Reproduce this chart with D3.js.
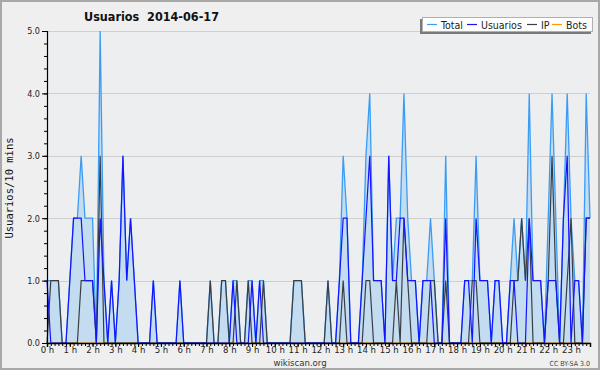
<!DOCTYPE html>
<html>
<head>
<meta charset="utf-8">
<script src="https://cdn.jsdelivr.net/npm/d3@7/dist/d3.min.js"></script>
<style>
html,body{margin:0;padding:0;background:#efefef;}
svg{display:block;}
text{font-family:"DejaVu Sans Condensed","DejaVu Sans",sans-serif;}
</style>
</head>
<body>
<svg id="chart" width="600" height="370"></svg>
<script>
// ---- data (10-minute slots, 0:00 .. 23:50) ----
const hourLabels = ["0 h","1 h","2 h","3 h","4 h","5 h","6 h","7 h","8 h","9 h","10 h","11 h",
  "12 h","13 h","14 h","15 h","16 h","17 h","18 h","19 h","20 h","21 h","22 h","23 h"];
const yTickValues = [0, 1, 2, 3, 4, 5];
const seriesNames = ["Total", "Usuarios", "IP", "Bots"];

const total = [
  1,1,1,1,0,0, 1,2,2,3,2,2,
  2,0,5,1,0,1, 0,1,3,1,2,1,
  0,0,0,0,1,0, 0,0,0,0,0,1,
  0,0,0,0,0,0, 0,1,0,0,1,1,
  0,1,1,0,0,1, 1,0,1,1,0,0,
  0,0,0,0,0,1, 1,1,0,0,0,0,
  0,0,1,0,0,1, 3,2,0,0,0,1,
  3,4,1,1,1,0, 3,1,2,2,4,2,
  1,1,0,1,1,2, 1,0,0,3,0,0,
  0,0,1,1,1,3, 1,1,1,0,1,1,
  0,0,1,2,1,2, 1,4,1,1,1,0,
  2,4,2,0,2,4, 2,1,1,0,4,2];
const usuarios = [
  1,0,0,0,0,0, 1,2,2,2,1,1,
  1,0,2,1,0,1, 0,1,3,1,2,1,
  0,0,0,0,1,0, 0,0,0,0,0,1,
  0,0,0,0,0,0, 0,0,0,0,0,0,
  0,1,0,0,0,0, 1,0,1,0,0,0,
  0,0,0,0,0,0, 0,0,0,0,0,0,
  0,0,0,0,0,1, 2,2,0,0,0,1,
  2,3,1,1,1,0, 3,1,1,2,2,1,
  1,1,0,1,1,1, 0,0,0,2,0,0,
  0,0,1,1,0,2, 1,1,1,0,1,1,
  0,0,1,1,0,0, 0,2,1,1,1,0,
  1,1,1,0,2,3, 0,1,1,0,2,2];
const ip = [
  0,1,1,1,0,0, 0,0,0,1,1,1,
  1,0,3,0,0,0, 0,0,0,0,0,0,
  0,0,0,0,0,0, 0,0,0,0,0,0,
  0,0,0,0,0,0, 0,1,0,0,1,1,
  0,0,1,0,0,1, 0,0,0,1,0,0,
  0,0,0,0,0,1, 1,1,0,0,0,0,
  0,0,1,0,0,0, 1,0,0,0,0,0,
  1,1,0,0,0,0, 0,0,1,0,2,1,
  0,0,0,0,0,1, 1,0,0,1,0,0,
  0,0,0,0,1,1, 0,0,0,0,0,0,
  0,0,0,1,1,2, 1,2,0,0,0,0,
  1,3,1,0,0,1, 2,0,0,0,2,2];
const bots = [
  0,0,0,0,0,0, 0,0,0,0,0,0,
  0,0,0,0,0,0, 0,0,0,0,0,0,
  0,0,0,0,0,0, 0,0,0,0,0,0,
  0,0,0,0,0,0, 0,0,0,0,0,0,
  0,0,0,0,0,0, 0,0,0,0,0,0,
  0,0,0,0,0,0, 0,0,0,0,0,0,
  0,0,0,0,0,0, 0,0,0,0,0,0,
  0,0,0,0,0,0, 0,0,0,0,0,0,
  0,0,0,0,0,0, 0,0,0,0,0,0,
  0,0,0,0,0,0, 0,0,0,0,0,0,
  0,0,0,0,0,0, 0,0,0,0,0,0,
  0,0,0,0,0,0, 0,0,0,0,0,0];

// ---- drawing ----
const svg = d3.select("#chart");
const W = 600, H = 370;
const plot = {left: 47, right: 590, top: 31, bottom: 343};
const fontCond = '"DejaVu Sans Condensed","DejaVu Sans",sans-serif';

svg.append("rect").attr("x", 1).attr("y", 1).attr("width", W - 2).attr("height", H - 2)
  .attr("fill", "#efefef").attr("stroke", "#a8a8a8").attr("stroke-width", 2);

const x = d3.scaleLinear().domain([0, total.length - 1]).range([plot.left, plot.right]);
const y = d3.scaleLinear().domain([0, 5]).range([plot.bottom, plot.top]);

svg.append("rect").attr("x", plot.left).attr("y", plot.top)
  .attr("width", plot.right - plot.left).attr("height", plot.bottom - plot.top)
  .attr("fill", "#edeef0");

// grid
svg.append("g").selectAll("line").data(yTickValues.filter(v => v > 0)).join("line")
  .attr("x1", plot.left).attr("x2", plot.right)
  .attr("y1", d => Math.round(y(d)) + 0.5).attr("y2", d => Math.round(y(d)) + 0.5)
  .attr("stroke", "#cfcfcf").attr("stroke-width", 1);

// total area
const area = d3.area().x((d, i) => x(i)).y0(y(0)).y1(d => y(d));
svg.append("path").datum(total).attr("d", area).attr("fill", "#c4dcf0");

const line = d3.line().x((d, i) => x(i)).y(d => y(d));
svg.append("path").datum(bots).attr("d", line).attr("fill", "none")
  .attr("stroke", "#ff9900").attr("stroke-width", 1.2);
svg.append("path").datum(total).attr("d", line).attr("fill", "none")
  .attr("stroke", "#3a9cf5").attr("stroke-width", 1.3);
svg.append("path").datum(ip).attr("d", line).attr("fill", "none")
  .attr("stroke", "#3a3f46").attr("stroke-width", 1.2);
svg.append("path").datum(usuarios).attr("d", line).attr("fill", "none")
  .attr("stroke", "#1414ff").attr("stroke-width", 1.2);

// y axis
const yAxis = d3.axisLeft(y).tickValues(yTickValues).tickFormat(d3.format(".1f"))
  .tickSize(5).tickPadding(2);
const gy = svg.append("g").attr("transform", `translate(${plot.left},0)`).call(yAxis);
const yMinor = d3.axisLeft(y).ticks(20).tickSize(3).tickFormat("");
svg.append("g").attr("transform", `translate(${plot.left},0)`).call(yMinor)
  .call(g => g.select(".domain").remove());
gy.selectAll("text").attr("font-size", 9).attr("fill", "#222").style("font-family", fontCond);
gy.select(".domain").attr("stroke", "#000").attr("stroke-width", 1.2);

// x axis
const xAxis = d3.axisBottom(x).tickValues(hourLabels.map((h, k) => k * 6))
  .tickFormat((d, k) => hourLabels[k]).tickSize(4).tickPadding(1);
const gx = svg.append("g").attr("transform", `translate(0,${plot.bottom})`).call(xAxis);
const xMinor = d3.axisBottom(x).tickValues(total.map((d, i) => i)).tickSize(3).tickFormat("");
svg.append("g").attr("transform", `translate(0,${plot.bottom})`).call(xMinor)
  .call(g => g.select(".domain").remove());
gx.selectAll("text").attr("font-size", 9.5).attr("fill", "#222").attr("y", 3)
  .style("font-family", fontCond);
gx.select(".domain").attr("stroke", "#000").attr("stroke-width", 1.5);

// title
svg.append("text").attr("x", 84).attr("y", 21).attr("font-size", 12.5).attr("font-weight", "bold")
  .attr("fill", "#111").style("white-space", "pre").text("Usuarios  2014-06-17");

// y label
svg.append("text").attr("transform", "translate(13,188) rotate(-90)").attr("text-anchor", "middle")
  .attr("font-size", 10.5).attr("fill", "#111").style("font-family", '"DejaVu Sans Mono",monospace')
  .text("Usuarios/10 mins");

// footer
svg.append("text").attr("x", 300).attr("y", 366).attr("text-anchor", "middle")
  .attr("font-size", 9.5).attr("fill", "#333").text("wikiscan.org");
svg.append("text").attr("x", 590).attr("y", 366).attr("text-anchor", "end")
  .attr("font-size", 7).attr("fill", "#444").text("CC BY-SA 3.0");

// legend
const colors = {"Total": "#3a9cf5", "Usuarios": "#1414ff", "IP": "#3a3f46", "Bots": "#ff9900"};
const lg = svg.append("g");
lg.append("rect").attr("x", 420).attr("y", 19).attr("width", 171).attr("height", 15).attr("fill", "#7a7a7a");
lg.append("rect").attr("x", 422.5).attr("y", 17.5).attr("width", 170).attr("height", 14)
  .attr("fill", "#fff").attr("stroke", "#b0b0b0");
const legendX = [427, 467, 527, 552];
seriesNames.forEach((n, k) => {
  lg.append("line").attr("x1", legendX[k]).attr("x2", legendX[k] + 10).attr("y1", 24.5).attr("y2", 24.5)
    .attr("stroke", colors[n]).attr("stroke-width", 1.2);
  lg.append("text").attr("x", legendX[k] + 14).attr("y", 28.5).attr("font-size", 10.5)
    .attr("fill", "#222").text(n);
});
</script>
</body>
</html>
